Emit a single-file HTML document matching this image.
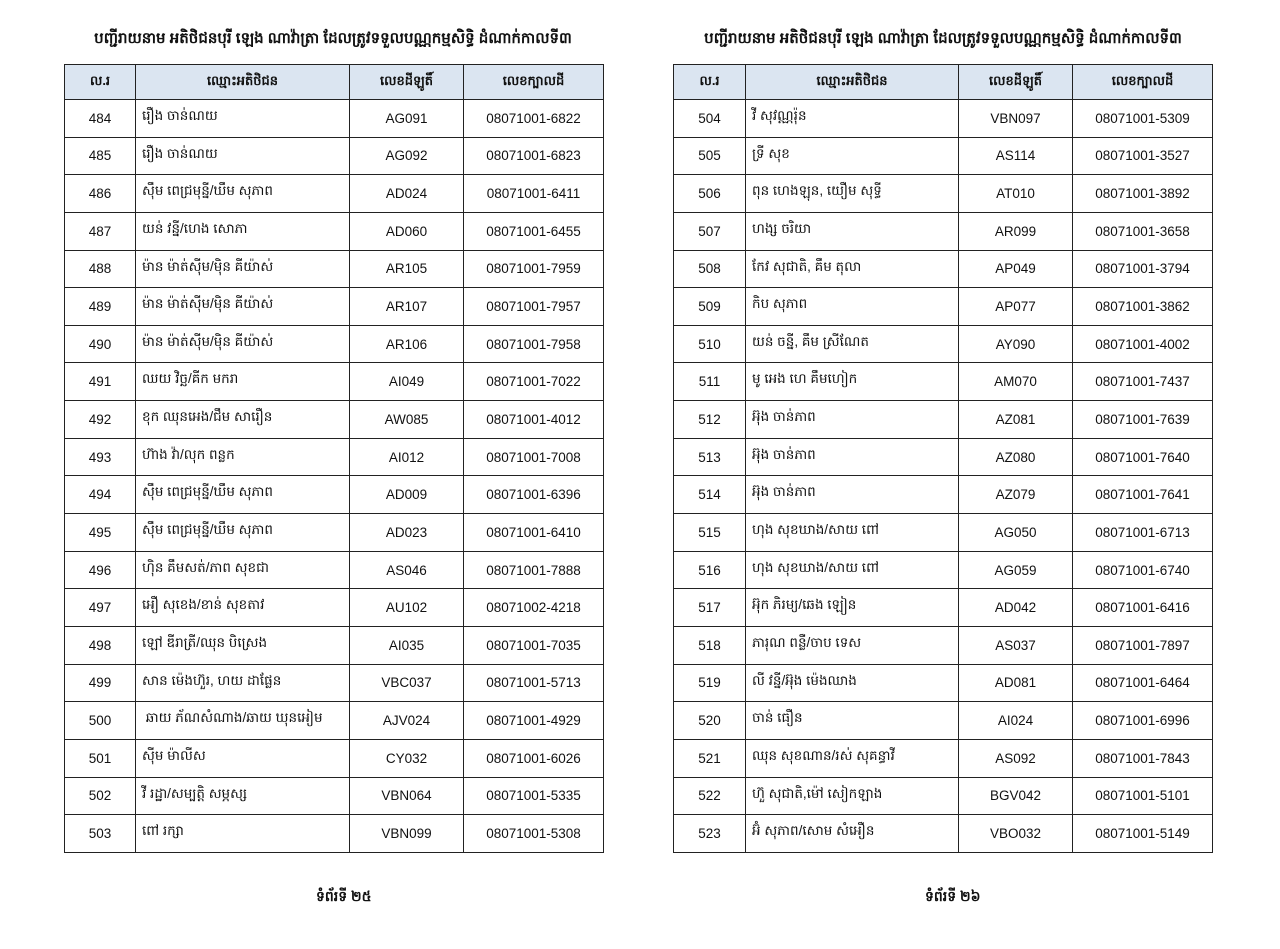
<!DOCTYPE html>
<html><head><meta charset="utf-8"><style>
body{margin:0;width:1280px;height:949px;background:#fff;position:relative;font-family:"Liberation Sans","DejaVu Sans",sans-serif;color:#111;overflow:hidden}
.title{position:absolute;top:29px;font-size:15px;font-weight:bold;text-align:center;width:560px}
table{position:absolute;top:64px;border-collapse:collapse;table-layout:fixed;font-size:13.5px}
td,th{border:1.5px solid #222;height:36.65px;padding:0;text-align:center}
th{background:#dbe5f1;height:34px;font-weight:bold;font-size:13px}
td.n{text-align:left;padding-left:6px;vertical-align:top;padding-top:7px;height:29.65px}
.foot{position:absolute;top:887px;font-size:14px;font-weight:bold}
</style></head><body>
<div class="title" style="left:53px">បញ្ជីរាយនាម អតិថិជនបុរី ឡេង ណាវ៉ាត្រា ដែលត្រូវទទួលបណ្ណកម្មសិទ្ធិ ដំណាក់កាលទី៣</div>
<div class="title" style="left:663px">បញ្ជីរាយនាម អតិថិជនបុរី ឡេង ណាវ៉ាត្រា ដែលត្រូវទទួលបណ្ណកម្មសិទ្ធិ ដំណាក់កាលទី៣</div>
<table style="left:64px;width:539px">
<colgroup><col style="width:71px"><col style="width:214px"><col style="width:114px"><col style="width:140px"></colgroup>
<tr><th>ល.រ</th><th>ឈ្មោះអតិថិជន</th><th>លេខដីឡូតិ៍</th><th>លេខក្បាលដី</th></tr>
<tr><td>484</td><td class="n">រឿង ចាន់ណយ</td><td>AG091</td><td>08071001-6822</td></tr>
<tr><td>485</td><td class="n">រឿង ចាន់ណយ</td><td>AG092</td><td>08071001-6823</td></tr>
<tr><td>486</td><td class="n">ស៊ឹម ពេជ្រមុន្នី/ឃឹម សុភាព</td><td>AD024</td><td>08071001-6411</td></tr>
<tr><td>487</td><td class="n">យន់ វន្នី/ហេង សោភា</td><td>AD060</td><td>08071001-6455</td></tr>
<tr><td>488</td><td class="n">ម៉ាន ម៉ាត់ស៊ីម/ម៉ិន គីយ៉ាស់</td><td>AR105</td><td>08071001-7959</td></tr>
<tr><td>489</td><td class="n">ម៉ាន ម៉ាត់ស៊ីម/ម៉ិន គីយ៉ាស់</td><td>AR107</td><td>08071001-7957</td></tr>
<tr><td>490</td><td class="n">ម៉ាន ម៉ាត់ស៊ីម/ម៉ិន គីយ៉ាស់</td><td>AR106</td><td>08071001-7958</td></tr>
<tr><td>491</td><td class="n">ឈយ វិច្ឆ/គីក មករា</td><td>AI049</td><td>08071001-7022</td></tr>
<tr><td>492</td><td class="n">ខុក ឈុនអេង/ជឹម សារឿន</td><td>AW085</td><td>08071001-4012</td></tr>
<tr><td>493</td><td class="n">ហ៊ាង វ៉ា/លុក ពន្លក</td><td>AI012</td><td>08071001-7008</td></tr>
<tr><td>494</td><td class="n">ស៊ឹម ពេជ្រមុន្នី/ឃឹម សុភាព</td><td>AD009</td><td>08071001-6396</td></tr>
<tr><td>495</td><td class="n">ស៊ឹម ពេជ្រមុន្នី/ឃឹម សុភាព</td><td>AD023</td><td>08071001-6410</td></tr>
<tr><td>496</td><td class="n">ហ៊ិន គឹមសត់/ភាព សុខជា</td><td>AS046</td><td>08071001-7888</td></tr>
<tr><td>497</td><td class="n">អឿ សុខេង/ខាន់ សុខតាវ</td><td>AU102</td><td>08071002-4218</td></tr>
<tr><td>498</td><td class="n">ឡៅ ឌីរាត្រី/ឈុន បិស្រេង</td><td>AI035</td><td>08071001-7035</td></tr>
<tr><td>499</td><td class="n">សាន ម៉េងហ៊ួរ, ហយ ដាផ្លែន</td><td>VBC037</td><td>08071001-5713</td></tr>
<tr><td>500</td><td class="n">&nbsp;ឆាយ ភ័ណសំណាង/ឆាយ ឃុនអៀម</td><td>AJV024</td><td>08071001-4929</td></tr>
<tr><td>501</td><td class="n">ស៊ីម ម៉ាលីស</td><td>CY032</td><td>08071001-6026</td></tr>
<tr><td>502</td><td class="n">វី រដ្ឋា/សម្បត្តិ សម្ភស្ស</td><td>VBN064</td><td>08071001-5335</td></tr>
<tr><td>503</td><td class="n">ពៅ រក្សា</td><td>VBN099</td><td>08071001-5308</td></tr>
</table>
<table style="left:673px;width:539px">
<colgroup><col style="width:72px"><col style="width:213px"><col style="width:114px"><col style="width:140px"></colgroup>
<tr><th>ល.រ</th><th>ឈ្មោះអតិថិជន</th><th>លេខដីឡូតិ៍</th><th>លេខក្បាលដី</th></tr>
<tr><td>504</td><td class="n">វី សុវណ្ណរ៉ុន</td><td>VBN097</td><td>08071001-5309</td></tr>
<tr><td>505</td><td class="n">ទ្រី សុខ</td><td>AS114</td><td>08071001-3527</td></tr>
<tr><td>506</td><td class="n">ពុន ហេងឡុន, យឿម សុទ្ធី</td><td>AT010</td><td>08071001-3892</td></tr>
<tr><td>507</td><td class="n">ហង្ស ចរិយា</td><td>AR099</td><td>08071001-3658</td></tr>
<tr><td>508</td><td class="n">កែវ សុជាតិ, គឹម តុលា</td><td>AP049</td><td>08071001-3794</td></tr>
<tr><td>509</td><td class="n">កិប សុភាព</td><td>AP077</td><td>08071001-3862</td></tr>
<tr><td>510</td><td class="n">យន់ ចន្នី, គឹម ស្រីណែត</td><td>AY090</td><td>08071001-4002</td></tr>
<tr><td>511</td><td class="n">មូ អេង ហេ គឹមហៀក</td><td>AM070</td><td>08071001-7437</td></tr>
<tr><td>512</td><td class="n">អ៊ុង ចាន់ភាព</td><td>AZ081</td><td>08071001-7639</td></tr>
<tr><td>513</td><td class="n">អ៊ុង ចាន់ភាព</td><td>AZ080</td><td>08071001-7640</td></tr>
<tr><td>514</td><td class="n">អ៊ុង ចាន់ភាព</td><td>AZ079</td><td>08071001-7641</td></tr>
<tr><td>515</td><td class="n">ហុង សុខឃាង/សាយ ពៅ</td><td>AG050</td><td>08071001-6713</td></tr>
<tr><td>516</td><td class="n">ហុង សុខឃាង/សាយ ពៅ</td><td>AG059</td><td>08071001-6740</td></tr>
<tr><td>517</td><td class="n">អ៊ុក ភិរម្យ/ឆេង ឡៀន</td><td>AD042</td><td>08071001-6416</td></tr>
<tr><td>518</td><td class="n">ភារុណ ពន្លឺ/ចាប ទេស</td><td>AS037</td><td>08071001-7897</td></tr>
<tr><td>519</td><td class="n">លី វន្នី/អ៊ុង ម៉េងឈាង</td><td>AD081</td><td>08071001-6464</td></tr>
<tr><td>520</td><td class="n">ចាន់ ធឿន</td><td>AI024</td><td>08071001-6996</td></tr>
<tr><td>521</td><td class="n">ឈុន សុខណាន/រស់ សុគន្ធាវី</td><td>AS092</td><td>08071001-7843</td></tr>
<tr><td>522</td><td class="n">ហ៊ួ សុជាតិ,ម៉ៅ សៀកឡាង</td><td>BGV042</td><td>08071001-5101</td></tr>
<tr><td>523</td><td class="n">អ៊ំ សុភាព/សោម សំអឿន</td><td>VBO032</td><td>08071001-5149</td></tr>
</table>
<div class="foot" style="left:316px">ទំព័រទី ២៥</div>
<div class="foot" style="left:925px">ទំព័រទី ២៦</div>
</body></html>
